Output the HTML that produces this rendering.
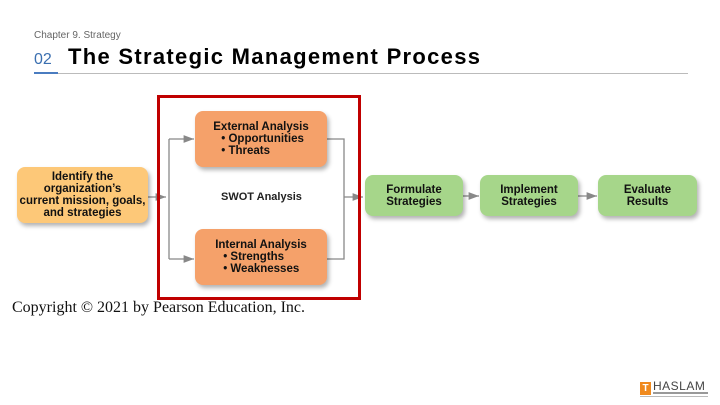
<!DOCTYPE html>
<html><head><style>
body{margin:0;width:720px;height:405px;background:#fff;position:relative;overflow:hidden;font-family:"Liberation Sans",sans-serif}
.a{position:absolute}
.box{position:absolute;border-radius:8px;display:flex;align-items:center;justify-content:center;text-align:center;font-weight:bold;font-size:11.5px;line-height:12px;color:#111;box-shadow:2px 3px 4px rgba(0,0,0,.3)}
.or{background:#f5a16a}.ye{background:#fdc878}.gr{background:#a6d68a}
</style></head><body>
<div class="a" style="left:34px;top:30px;font-size:10px;color:#666">Chapter 9. Strategy</div>
<div class="a" style="left:34px;top:51px;font-size:16px;color:#3a6fb0">02</div>
<div class="a" style="left:68px;top:44px;font-size:22px;font-weight:bold;color:#000;letter-spacing:1.3px;white-space:nowrap">The Strategic Management Process</div>
<div class="a" style="left:34px;top:72px;width:24px;height:2px;background:#4a7cc0"></div>
<div class="a" style="left:58px;top:73px;width:630px;height:1px;background:#bbb"></div>

<svg class="a" style="left:0;top:0" width="720" height="405">
<defs><marker id="m" markerWidth="8" markerHeight="6" refX="8" refY="3" orient="auto"><path d="M0,0L8,3L0,6z" fill="#888"/></marker></defs>
<g stroke="#888" stroke-width="1.3" fill="none">
<path d="M148,197H166" marker-end="url(#m)"/>
<path d="M169,139V259"/>
<path d="M169,139H194" marker-end="url(#m)"/>
<path d="M169,259H194" marker-end="url(#m)"/>
<path d="M327,139H344V259H327"/>
<path d="M344,197H363" marker-end="url(#m)"/>
<path d="M463,196H479" marker-end="url(#m)"/>
<path d="M578,196H597" marker-end="url(#m)"/>
</g>
<rect x="158.5" y="96.5" width="201" height="202" fill="none" stroke="#c00000" stroke-width="3"/>
</svg>

<div class="box ye" style="left:17px;top:167px;width:131px;height:56px">Identify the<br>organization’s<br>current mission, goals,<br>and strategies</div>
<div class="box or" style="left:195px;top:111px;width:132px;height:56px"><div>External Analysis<div style="text-align:left;padding-left:8px">• Opportunities<br>• Threats</div></div></div>
<div class="box or" style="left:195px;top:229px;width:132px;height:56px"><div>Internal Analysis<div style="text-align:left;padding-left:8px">• Strengths<br>• Weaknesses</div></div></div>
<div class="a" style="left:221px;top:191px;font-size:11px;font-weight:bold;color:#222">SWOT Analysis</div>
<div class="box gr" style="left:365px;top:175px;width:98px;height:41px">Formulate<br>Strategies</div>
<div class="box gr" style="left:480px;top:175px;width:98px;height:41px">Implement<br>Strategies</div>
<div class="box gr" style="left:598px;top:175px;width:99px;height:41px">Evaluate<br>Results</div>

<div class="a" style="left:12px;top:299px;font-family:'Liberation Serif',serif;font-size:16px;color:#111;white-space:nowrap">Copyright © 2021 by Pearson Education, Inc.</div>

<div class="a" style="left:640px;top:382px;width:11px;height:13px;background:#f08a1e;color:#fff;font-size:10px;font-weight:bold;text-align:center;line-height:13px">T</div>
<div class="a" style="left:653px;top:379px;font-size:12px;color:#444;letter-spacing:0.5px">HASLAM</div>
<div class="a" style="left:653px;top:392px;width:55px;height:2px;background:#999"></div>
<div class="a" style="left:640px;top:396px;width:68px;height:1px;background:#bbb"></div>
</body></html>
